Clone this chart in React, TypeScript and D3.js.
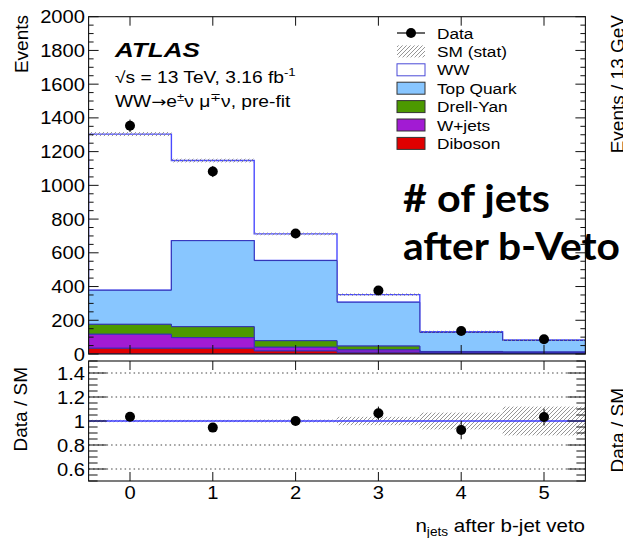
import React from "react";
import * as d3 from "d3";

// ---------- data ----------
const binCenters = [0, 1, 2, 3, 4, 5];
const dataCounts = [1353, 1082, 714, 376, 136, 87];
const dataErr = [37, 33, 27, 19, 12, 9];
const diboson = [34, 34, 18, 10, 4, 3];
const wjets = [83, 63, 22, 14, 6, 5];
const drellYan = [59, 65, 39, 23, 5, 4];
const topQuark = [202, 510, 475, 260, 113, 68];
const ww = [926, 475, 158, 45, 4, 3];
const smStatErr = [12, 11, 8, 7, 6, 6];
const ratioValues = [1.035, 0.945, 1.0, 1.065, 0.925, 1.033];
const ratioErr = [0.03, 0.03, 0.035, 0.055, 0.077, 0.07];
const ratioBand = [0.01, 0.01, 0.012, 0.035, 0.07, 0.12];
const mainYTicks = [0, 200, 400, 600, 800, 1000, 1200, 1400, 1600, 1800, 2000];
const ratioYTicks = [0.6, 0.8, 1, 1.2, 1.4];
const ratioYTickLabels = ["0.6", "0.8", "1", "1.2", "1.4"];
const xTickLabels = ["0", "1", "2", "3", "4", "5"];
const legendLabels = ["Data", "SM (stat)", "WW", "Top Quark", "Drell-Yan", "W+jets", "Diboson"];
const processKeys = ["diboson", "wjets", "drellYan", "topQuark", "ww"];

const colors: Record<string, string> = {
  ww: "#ffffff",
  topQuark: "#88c6ff",
  drellYan: "#4c9900",
  wjets: "#a21bd3",
  diboson: "#e00000",
};

const FONT = "'Liberation Sans', Arial, Helvetica, sans-serif";

function T(props: any) {
  const { x, y, sx = 1, size, anchor = "start", weight = "normal", italic = false, family = FONT, rotate, children, fill = "#000", textLength } = props;
  const tr = `translate(${x},${y}) scale(${sx},1)` + (rotate ? ` rotate(${rotate})` : "");
  return (
    <text
      transform={tr}
      fontSize={size}
      textAnchor={anchor}
      fontWeight={weight}
      fontStyle={italic ? "italic" : "normal"}
      fontFamily={family}
      fill={fill}
      textLength={textLength}
      lengthAdjust={textLength ? "spacingAndGlyphs" : undefined}
    >
      {children}
    </text>
  );
}

export default function App() {
  const W = 623, H = 538;
  const x0 = 88.6, x1 = 585.4;
  const mTop = 16.7, mBot = 354;
  const rTop = 361, rBot = 481;

  const x = d3.scaleLinear().domain([-0.5, 5.5]).range([x0, x1]);
  const y = d3.scaleLinear().domain([0, 2000]).range([mBot, mTop]);
  const yr = d3.scaleLinear().domain([0.5, 1.5]).range([rBot, rTop]);

  const table = binCenters.map((b, i) => ({
    bin: b,
    diboson: diboson[i],
    wjets: wjets[i],
    drellYan: drellYan[i],
    topQuark: topQuark[i],
    ww: ww[i],
  }));
  const stack = d3.stack<any>().keys(processKeys)(table);

  const area = d3
    .area<any>()
    .x((d) => x(d.x))
    .y0((d) => y(d.y0))
    .y1((d) => y(d.y1))
    .curve(d3.curveStepAfter);

  const layerPoints = (layer: any) => {
    const pts = layer.map((d: any, i: number) => ({ x: binCenters[i] - 0.5, y0: d[0], y1: d[1] }));
    const last = layer[layer.length - 1];
    pts.push({ x: binCenters[binCenters.length - 1] + 0.5, y0: last[0], y1: last[1] });
    return pts;
  };

  const smTotal = binCenters.map((_, i) => stack[stack.length - 1][i][1]);
  const binW = x(1) - x(0);

  // ticks
  const mainMinor: number[] = [];
  for (let v = 0; v <= 2000; v += 50) mainMinor.push(v);
  const ratioMinor: number[] = [];
  for (let k = 0; k <= 20; k++) ratioMinor.push(0.5 + k * 0.05);
  const isRatioMajor = (v: number) => ratioYTicks.some((t) => Math.abs(t - v) < 1e-6);

  const legendRowY = (i: number) => 33 + i * 18.4;
  const legendColorKeys = [null, null, "ww", "topQuark", "drellYan", "wjets", "diboson"];

  const ratioLine = "#3b3bff";

  return (
    <svg width={W} height={H} style={{ position: "absolute", left: 0, top: 0, background: "#fff" }}>
      <defs>
        <pattern id="hatch" patternUnits="userSpaceOnUse" width="4" height="4">
          <path d="M-1,1 l2,-2 M0,4 l4,-4 M3,5 l2,-2" stroke="#8a8a8a" strokeWidth="0.9" />
        </pattern>
        <clipPath id="mainClip">
          <rect x={x0} y={mTop} width={x1 - x0} height={mBot - mTop} />
        </clipPath>
        <clipPath id="ratioClip">
          <rect x={x0} y={rTop} width={x1 - x0} height={rBot - rTop} />
        </clipPath>
      </defs>
      <rect x={0} y={0} width={W} height={H} fill="#fff" />

      {/* ---------- main panel ---------- */}
      <g clipPath="url(#mainClip)">
        {stack
          .slice()
          .reverse()
          .map((layer: any) => {
            const key = layer.key;
            return (
              <path
                key={key}
                d={area(layerPoints(layer)) || ""}
                fill={colors[key]}
                stroke={key === "ww" ? "#4a4aff" : "#3232b4"}
                strokeWidth={key === "ww" ? 1.4 : 1}
              />
            );
          })}
        {/* SM stat band */}
        {binCenters.map((b, i) => (
          <rect
            key={"band" + i}
            x={x(b - 0.5)}
            y={y(smTotal[i] + smStatErr[i])}
            width={binW}
            height={y(smTotal[i] - smStatErr[i]) - y(smTotal[i] + smStatErr[i])}
            fill="url(#hatch)"
          />
        ))}
        {/* data */}
        {binCenters.map((b, i) => (
          <g key={"d" + i}>
            <line x1={x(b)} x2={x(b)} y1={y(dataCounts[i] + dataErr[i])} y2={y(dataCounts[i] - dataErr[i])} stroke="#000" strokeWidth={1} />
            <circle cx={x(b)} cy={y(dataCounts[i])} r={5} fill="#000" />
          </g>
        ))}
      </g>

      {/* main frame and ticks */}
      <rect x={x0} y={mTop} width={x1 - x0} height={mBot - mTop} fill="none" stroke="#111" strokeWidth={1.1} />
      {mainMinor.map((v) => {
        const len = v % 200 === 0 ? 10 : 5;
        return (
          <g key={"mt" + v} stroke="#111" strokeWidth={1}>
            <line x1={x0} x2={x0 + len} y1={y(v)} y2={y(v)} />
            <line x1={x1} x2={x1 - len} y1={y(v)} y2={y(v)} />
          </g>
        );
      })}
      {binCenters.map((b) => (
        <g key={"mx" + b} stroke="#111" strokeWidth={1}>
          <line x1={x(b)} x2={x(b)} y1={mTop} y2={mTop + 9} />
          <line x1={x(b)} x2={x(b)} y1={mBot} y2={mBot - 9} />
        </g>
      ))}
      {mainYTicks.map((v) => (
        <T key={"ml" + v} x={85} y={y(v) + 6.5} size={18} sx={1.12} anchor="end">
          {String(v)}
        </T>
      ))}
      <T x={28} y={15} size={19} rotate={-90} anchor="end">
        Events
      </T>

      {/* ATLAS label */}
      <T x={115} y={57} size={21} sx={1.24} weight="bold" italic>
        ATLAS
      </T>
      <T x={115} y={83} size={16} sx={1.2}>
        √s = 13 TeV, 3.16 fb
        <tspan dy={-7} fontSize={11}>-1</tspan>
      </T>
      <T x={115} y={107} size={16} sx={1.2}>
        WW
        <tspan fontFamily="'DejaVu Sans', sans-serif" fontSize={15}>→</tspan>
        e
        <tspan dy={-6} fontSize={11}>±</tspan>
        <tspan dy={6}>ν μ</tspan>
        <tspan dy={-6} fontSize={11}>∓</tspan>
        <tspan dy={6}>ν, pre-fit</tspan>
      </T>

      {/* legend */}
      {legendLabels.map((lab, i) => {
        const cy = legendRowY(i);
        const key = legendColorKeys[i];
        let marker: any = null;
        if (i === 0) {
          marker = (
            <g>
              <line x1={397} x2={425} y1={cy} y2={cy} stroke="#000" strokeWidth={1.2} />
              <circle cx={411} cy={cy} r={5} fill="#000" />
            </g>
          );
        } else if (i === 1) {
          marker = <rect x={397} y={cy - 6} width={28} height={12} fill="url(#hatch)" />;
        } else {
          marker = (
            <rect
              x={397}
              y={cy - 6}
              width={28}
              height={12}
              fill={colors[key as string]}
              stroke={key === "ww" ? "#4a4ad8" : "#333"}
              strokeWidth={1}
            />
          );
        }
        return (
          <g key={"lg" + i}>
            {marker}
            <T x={437} y={cy + 5.5} size={15} sx={1.15}>
              {lab}
            </T>
          </g>
        );
      })}

      {/* ---------- ratio panel ---------- */}
      <g clipPath="url(#ratioClip)">
        {ratioYTicks
          .filter((v) => v !== 1)
          .map((v) => (
            <line key={"g" + v} x1={x0} x2={x1} y1={yr(v)} y2={yr(v)} stroke="#444" strokeWidth={1} strokeDasharray="1.5 3" />
          ))}
        {binCenters.map((b, i) => (
          <rect
            key={"rb" + i}
            x={x(b - 0.5)}
            y={yr(1 + ratioBand[i])}
            width={binW}
            height={yr(1 - ratioBand[i]) - yr(1 + ratioBand[i])}
            fill="url(#hatch)"
          />
        ))}
        <line x1={x0} x2={x1} y1={yr(1)} y2={yr(1)} stroke={ratioLine} strokeWidth={1.5} />
        {binCenters.map((b, i) => (
          <g key={"rd" + i}>
            <line x1={x(b)} x2={x(b)} y1={yr(ratioValues[i] + ratioErr[i])} y2={yr(ratioValues[i] - ratioErr[i])} stroke="#000" strokeWidth={1} />
            <circle cx={x(b)} cy={yr(ratioValues[i])} r={5} fill="#000" />
          </g>
        ))}
      </g>
      <rect x={x0} y={rTop} width={x1 - x0} height={rBot - rTop} fill="none" stroke="#111" strokeWidth={1.1} />
      {ratioMinor.map((v, k) => {
        const len = isRatioMajor(v) ? 18 : 9;
        return (
          <g key={"rt" + k} stroke="#111" strokeWidth={1}>
            <line x1={x0} x2={x0 + len} y1={yr(v)} y2={yr(v)} />
            <line x1={x1} x2={x1 - len} y1={yr(v)} y2={yr(v)} />
          </g>
        );
      })}
      {binCenters.map((b) => (
        <g key={"rx" + b} stroke="#111" strokeWidth={1}>
          <line x1={x(b)} x2={x(b)} y1={rTop} y2={rTop + 9} />
          <line x1={x(b)} x2={x(b)} y1={rBot} y2={rBot - 9} />
        </g>
      ))}
      {ratioYTicks.map((v, i) => (
        <T key={"rl" + i} x={85} y={yr(v) + 6.5} size={18} sx={1.12} anchor="end">
          {ratioYTickLabels[i]}
        </T>
      ))}
      {binCenters.map((b, i) => (
        <T key={"xl" + i} x={x(b)} y={499} size={18} sx={1.12} anchor="middle">
          {xTickLabels[i]}
        </T>
      ))}
      <T x={27} y={367} size={19} rotate={-90} anchor="end">
        Data / SM
      </T>
      <T x={585} y={532} size={18} sx={1.14} anchor="end">
        n
        <tspan dy={4} fontSize={12}>jets</tspan>
        <tspan dy={-4}> after b-jet veto</tspan>
      </T>

      {/* neighbouring plot, cut off at the right edge as in the reference */}
      <T x={624} y={15} size={19} rotate={-90} anchor="end">
        Events / 13 GeV
      </T>
      <T x={624} y={388} size={19} rotate={-90} anchor="end">
        Data / SM
      </T>

      {/* overlay annotation */}
      <T x={403} y={212} size={38} weight="bold" family="Lato, 'Open Sans', sans-serif" textLength={147}>
        # of jets
      </T>
      <T x={403} y={260} size={38} weight="bold" family="Lato, 'Open Sans', sans-serif" textLength={217}>
        after b-Veto
      </T>
    </svg>
  );
}
